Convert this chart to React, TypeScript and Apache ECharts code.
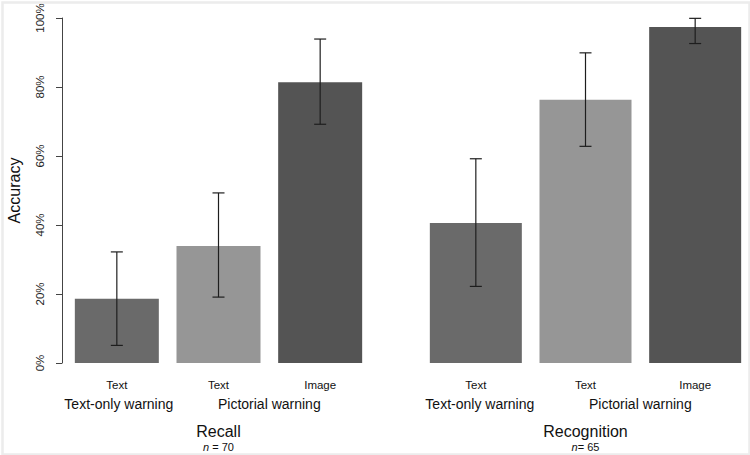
import React, { useEffect, useRef } from "react";
import * as echarts from "echarts";

// ---- data ----
const recallCategories = ["Text-only / Text", "Pictorial / Text", "Pictorial / Image"];
const recognitionCategories = ["Text-only / Text", "Pictorial / Text", "Pictorial / Image"];
const tickLabels = ["Text", "Text", "Image"];
const groupLabels = ["Text-only warning", "Pictorial warning"];
const recallValues = [18.6, 33.9, 81.4];
const recallLow = [5.1, 19.1, 69.2];
const recallHigh = [32.2, 49.3, 93.9];
const recognitionValues = [40.6, 76.3, 97.4];
const recognitionLow = [22.2, 62.8, 92.6];
const recognitionHigh = [59.2, 89.9, 99.9];
const barColors = ["#6a6a6a", "#969696", "#545454"];
const panelTitles = ["Recall", "Recognition"];
const panelN = ["{i|n} = 70", "{i|n}= 65"];
const yTicks = [0, 20, 40, 60, 80, 100];

const FONT = "'Liberation Sans', Arial, sans-serif";

export default function App() {
  const ref = useRef<HTMLDivElement>(null);

  useEffect(() => {
    if (!ref.current) return;
    const chart = echarts.init(ref.current, undefined, { renderer: "svg" });

    const errRender = (params: any, api: any) => {
      const x = api.value(0);
      const lo = api.coord([x, api.value(1)]);
      const hi = api.coord([x, api.value(2)]);
      const w = 6;
      const style = { stroke: "#1e1e1e", lineWidth: 1.2 };
      return {
        type: "group",
        children: [
          { type: "line", shape: { x1: hi[0], y1: hi[1], x2: lo[0], y2: lo[1] }, style },
          { type: "line", shape: { x1: hi[0] - w, y1: hi[1], x2: hi[0] + w, y2: hi[1] }, style },
          { type: "line", shape: { x1: lo[0] - w, y1: lo[1], x2: lo[0] + w, y2: lo[1] }, style },
        ],
      };
    };

    const xAxisCommon = {
      type: "category",
      axisLine: { show: false },
      axisTick: { show: false },
      axisLabel: {
        margin: 16,
        fontSize: 11.5,
        color: "#111",
        fontFamily: FONT,
        formatter: (_v: string, i: number) => tickLabels[i],
      },
    };

    const option: any = {
      animation: false,
      backgroundColor: "#ffffff",
      grid: [
        { left: 66, width: 305, top: 18, height: 345 },
        { left: 421, width: 333, top: 18, height: 345 },
      ],
      xAxis: [
        { ...xAxisCommon, gridIndex: 0, data: recallCategories },
        { ...xAxisCommon, gridIndex: 1, data: recognitionCategories },
      ],
      yAxis: [
        {
          type: "value",
          gridIndex: 0,
          min: 0,
          max: 100,
          interval: 20,
          offset: 4,
          splitLine: { show: false },
          axisLine: { show: true, lineStyle: { color: "#444", width: 1 } },
          axisTick: { show: true, length: 6, lineStyle: { color: "#444" } },
          axisLabel: {
            rotate: 90,
            margin: 16,
            fontSize: 11.5,
            color: "#222",
            fontFamily: FONT,
            formatter: (v: number) => (yTicks.includes(v) ? v + "%" : ""),
          },
          name: "Accuracy",
          nameLocation: "middle",
          nameGap: 40,
          nameTextStyle: { fontSize: 16, color: "#111", fontFamily: FONT },
        },
        {
          type: "value",
          gridIndex: 1,
          min: 0,
          max: 100,
          interval: 20,
          show: false,
          splitLine: { show: false },
        },
      ],
      series: [
        {
          type: "bar",
          xAxisIndex: 0,
          yAxisIndex: 0,
          barWidth: 84,
          data: recallValues.map((v, i) => ({ value: v, itemStyle: { color: barColors[i] } })),
        },
        {
          type: "bar",
          xAxisIndex: 1,
          yAxisIndex: 1,
          barWidth: 92,
          data: recognitionValues.map((v, i) => ({ value: v, itemStyle: { color: barColors[i] } })),
        },
        {
          type: "custom",
          xAxisIndex: 0,
          yAxisIndex: 0,
          renderItem: errRender,
          encode: { x: 0, y: [1, 2] },
          data: recallLow.map((lo, i) => [i, lo, recallHigh[i]]),
          z: 10,
        },
        {
          type: "custom",
          xAxisIndex: 1,
          yAxisIndex: 1,
          renderItem: errRender,
          encode: { x: 0, y: [1, 2] },
          data: recognitionLow.map((lo, i) => [i, lo, recognitionHigh[i]]),
          z: 10,
        },
      ],
    };

    chart.setOption(option);

    // group and panel labels placed from the axes' own positions
    const graphics: any[] = [];
    [0, 1].forEach((g) => {
      const px = (i: number) => chart.convertToPixel({ gridIndex: g } as any, [i, 0]) as number[];
      const c0 = px(0)[0];
      const c1 = px(1)[0];
      const c2 = px(2)[0];
      graphics.push(
        {
          type: "text",
          x: c0 + (g === 1 ? 4 : 2),
          y: 404,
          style: { text: groupLabels[0], fontSize: 14, fontFamily: FONT, fill: "#111", align: "center", verticalAlign: "middle" },
        },
        {
          type: "text",
          x: (c1 + c2) / 2,
          y: 404,
          style: { text: groupLabels[1], fontSize: 14, fontFamily: FONT, fill: "#111", align: "center", verticalAlign: "middle" },
        },
        {
          type: "text",
          x: c1,
          y: 431,
          style: { text: panelTitles[g], fontSize: 16, fontFamily: FONT, fill: "#111", align: "center", verticalAlign: "middle" },
        },
        {
          type: "text",
          x: c1,
          y: 447,
          style: {
            text: panelN[g],
            fontSize: 11,
            fontFamily: FONT,
            fill: "#111",
            align: "center",
            verticalAlign: "middle",
            rich: { i: { fontStyle: "italic", fontSize: 11, fontFamily: FONT, fill: "#111" } },
          },
        }
      );
    });
    graphics.push({
      type: "rect",
      left: 0,
      top: 0,
      shape: { x: 1, y: 1, width: 747, height: 452 },
      style: { fill: "none", stroke: "#ececec", lineWidth: 2.5 },
      silent: true,
      z: 100,
    });
    chart.setOption({ graphic: graphics });

    return () => chart.dispose();
  }, []);

  return (
    <div
      ref={ref}
      style={{ position: "fixed", left: 0, top: 0, width: 750, height: 455, background: "#fff" }}
    />
  );
}
